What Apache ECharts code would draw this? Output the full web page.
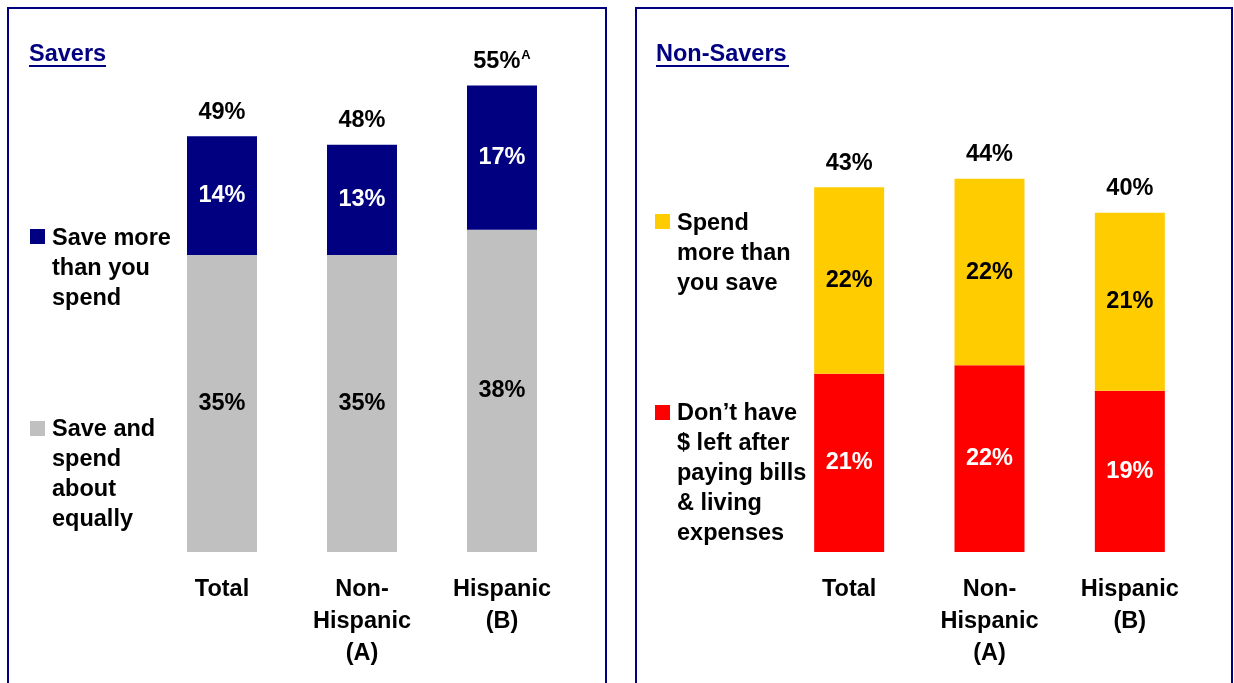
<!DOCTYPE html>
<html>
<head>
<meta charset="utf-8">
<script src="https://cdn.jsdelivr.net/npm/echarts@6/dist/echarts.min.js"></script>
<style>
  html, body { margin: 0; padding: 0; background: #fff; }
  #chart { width: 1234px; height: 683px; }
</style>
</head>
<body>
<div id="chart"></div>
<script>
// Categories shared by both panels
const categories = ['Total', 'Non-\nHispanic\n(A)', 'Hispanic\n(B)'];

// Savers panel
const saversTitle = 'Savers';
const saveMoreName = 'Save more\nthan you\nspend';
const saveEqualName = 'Save and\nspend\nabout\nequally';
const saveMore = [14, 13, 17];
const saveEqual = [35, 35, 38];
const saversTotal = [49, 48, 55];
const saversSig = ['', '', 'A'];

// Non-Savers panel
const nonSaversTitle = 'Non-Savers';
const spendMoreName = 'Spend\nmore than\nyou save';
const noMoneyName = 'Don\u2019t have\n$ left after\npaying bills\n& living\nexpenses';
const spendMore = [22, 22, 21];
const noMoney = [21, 22, 19];
const nonSaversTotal = [43, 44, 40];
const nonSaversSig = ['', '', ''];

const FONT = '"Liberation Sans", Arial, sans-serif';
const NAVY = '#000080';
const GRAY = '#C0C0C0';
const YELLOW = '#FFCC00';
const RED = '#FF0000';
const FS = 23.5;

const chart = echarts.init(document.getElementById('chart'), null, { renderer: 'canvas' });

function catAxis(gridIndex) {
  return {
    type: 'category', gridIndex, data: categories,
    axisLine: { show: false }, axisTick: { show: false },
    axisLabel: {
      interval: 0, margin: 22, color: '#000', fontFamily: FONT,
      fontWeight: 'bold', fontSize: FS, lineHeight: 32
    }
  };
}
function valAxis(gridIndex) {
  return {
    type: 'value', gridIndex, min: 0, max: 60,
    show: false, splitLine: { show: false }
  };
}
function segment(name, data, color, textColor, idx) {
  return {
    name, type: 'bar', stack: 'p' + idx, xAxisIndex: idx, yAxisIndex: idx,
    data, barWidth: 70, itemStyle: { color },
    label: {
      show: true, position: 'inside', formatter: '{c}%', color: textColor,
      fontFamily: FONT, fontWeight: 'bold', fontSize: FS
    }
  };
}
// Stack totals, written just above each bar
function totals(values, sig, idx) {
  return {
    type: 'scatter', xAxisIndex: idx, yAxisIndex: idx,
    data: values, symbolSize: 0, silent: true,
    itemStyle: { opacity: 1 },
    label: {
      show: true, position: 'top', distance: 10, opacity: 1,
      color: '#000', fontFamily: FONT, fontWeight: 'bold', fontSize: FS,
      formatter: p => '{v|' + p.value + '%}' + (sig[p.dataIndex] ? '{s|' + sig[p.dataIndex] + '}' : ''),
      rich: {
        v: { fontFamily: FONT, fontWeight: 'bold', fontSize: FS, color: '#000', lineHeight: 28 },
        s: { fontFamily: FONT, fontWeight: 'bold', fontSize: 13, color: '#000', verticalAlign: 'top', padding: [2, 0, 0, 1] }
      }
    }
  };
}

function legendItem(x, y, textX, textY, color, text) {
  return [
    { type: 'rect', shape: { x, y, width: 15, height: 15 }, style: { fill: color } },
    {
      type: 'text', x: textX, y: textY,
      style: {
        text, fill: '#000', font: 'bold ' + FS + 'px ' + FONT,
        lineHeight: 30, textVerticalAlign: 'top', textAlign: 'left'
      }
    }
  ];
}
function titleItem(x, text, underlineWidth) {
  return [
    {
      type: 'text', x, y: 55,
      style: { text, fill: NAVY, font: 'bold ' + FS + 'px ' + FONT, textVerticalAlign: 'middle' }
    },
    { type: 'line', shape: { x1: x, y1: 66, x2: x + underlineWidth, y2: 66 }, style: { stroke: NAVY, lineWidth: 2 } }
  ];
}

chart.setOption({
  animation: false,
  grid: [
    { left: 152, width: 420, top: 43, bottom: 131 },
    { left: 779, width: 421, top: 43, bottom: 131 }
  ],
  xAxis: [catAxis(0), catAxis(1)],
  yAxis: [valAxis(0), valAxis(1)],
  series: [
    segment(saveEqualName, saveEqual, GRAY, '#000', 0),
    segment(saveMoreName, saveMore, NAVY, '#fff', 0),
    totals(saversTotal, saversSig, 0),
    segment(noMoneyName, noMoney, RED, '#fff', 1),
    segment(spendMoreName, spendMore, YELLOW, '#000', 1),
    totals(nonSaversTotal, nonSaversSig, 1)
  ],
  graphic: [
    { type: 'rect', shape: { x: 8, y: 8, width: 598, height: 700 }, style: { fill: 'none', stroke: NAVY, lineWidth: 2 } },
    { type: 'rect', shape: { x: 636, y: 8, width: 596, height: 700 }, style: { fill: 'none', stroke: NAVY, lineWidth: 2 } },
    ...titleItem(29, saversTitle, 77),
    ...titleItem(656, nonSaversTitle, 133),
    ...legendItem(30, 229, 52, 224, NAVY, saveMoreName),
    ...legendItem(30, 421, 52, 415, GRAY, saveEqualName),
    ...legendItem(655, 214, 677, 209, YELLOW, spendMoreName),
    ...legendItem(655, 405, 677, 399, RED, noMoneyName)
  ]
});
</script>
</body>
</html>
